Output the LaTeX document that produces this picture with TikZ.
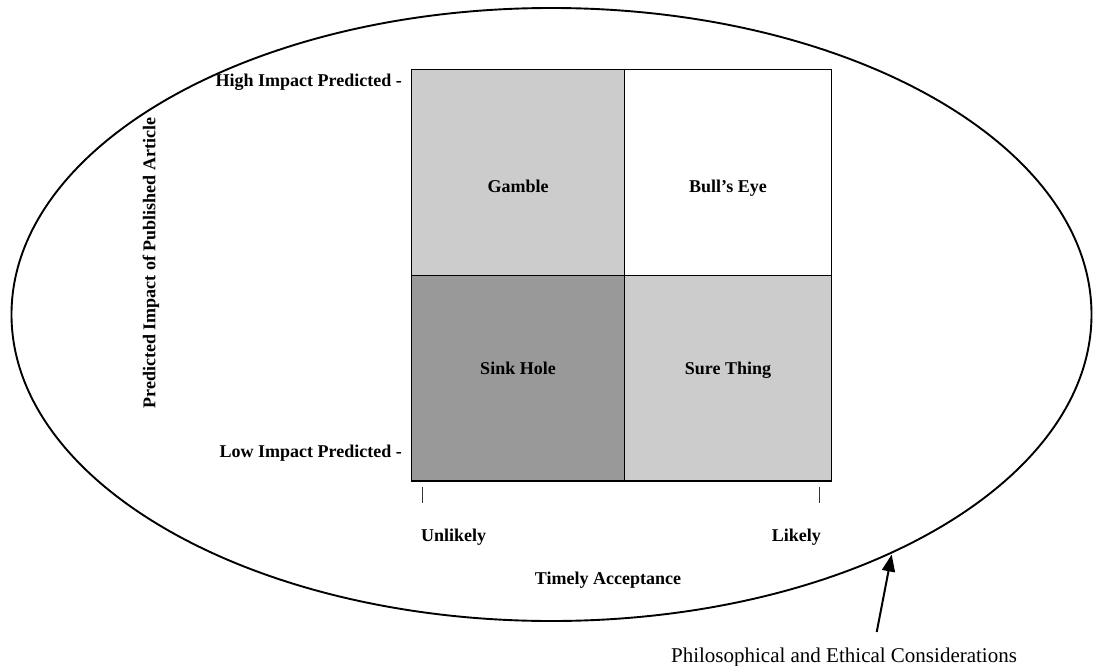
\documentclass[tikz,border=0pt]{standalone}
\usepackage{fontspec}
\setmainfont{Liberation Serif}
\usetikzlibrary{arrows.meta,shapes.geometric}
\definecolor{lightcell}{HTML}{CCCCCC}
\definecolor{darkcell}{HTML}{999999}
\begin{document}
\begin{tikzpicture}[x=1pt,y=-1pt,
  lbl/.style={font=\fontsize{18}{20}\selectfont\bfseries, inner sep=0pt},
  plain/.style={font=\fontsize{21}{24}\selectfont, inner sep=0pt},
  cell/.style={draw=black, line width=1.2pt, inner sep=0pt, outer sep=0pt},
  tick/.style={line width=0.9pt, draw=black!80}]
\useasboundingbox (0,0) rectangle (1094,666);
% outer ellipse
\node[ellipse, draw=black, line width=1.9pt, minimum width=1080pt, minimum height=613pt, inner sep=0pt] (oval) at (551.5,314.5) {};
% quadrant cells
\node[cell, fill=lightcell, minimum width=212.6pt, minimum height=206pt] (gamble) at (518,172.3) {};
\node[cell, fill=white, minimum width=207.4pt, minimum height=206pt] (bull) at (728,172.3) {};
\node[cell, fill=darkcell, minimum width=212.6pt, minimum height=205.7pt] (sink) at (518,378.15) {};
\node[cell, fill=lightcell, minimum width=207.4pt, minimum height=205.7pt] (sure) at (728,378.15) {};
% cell labels
\node[lbl, anchor=base] (tgamble) at (518,192) {Gamble};
\node[lbl, anchor=base] (tbull) at (728,192) {Bull’s Eye};
\node[lbl, anchor=base] (tsink) at (518,374) {Sink Hole};
\node[lbl, anchor=base] (tsure) at (728,374) {Sure Thing};
% axis labels
\node[lbl, anchor=base east] (high) at (402,87) {High Impact Predicted -};
\node[lbl, anchor=base east] (low) at (402,457) {Low Impact Predicted -};
\node[lbl, rotate=90] (yaxis) at (151,263) {Predicted Impact of Published Article};
\coordinate (t1a) at (422,487); \coordinate (t1b) at (422,503);
\coordinate (t2a) at (819,487); \coordinate (t2b) at (819,503);
\draw[tick] (t1a) -- (t1b);
\draw[tick] (t2a) -- (t2b);
\node[lbl, anchor=base west] (unlikely) at (421,541) {Unlikely};
\node[lbl, anchor=base east] (likely) at (821,541) {Likely};
\node[lbl, anchor=base] (xaxis) at (608,584) {Timely Acceptance};
% annotation
\node[plain, anchor=base] (philo) at (844,662) {Philosophical and Ethical Considerations};
\coordinate (tail) at (876.7,632);
\coordinate (tip) at (891.7,554.5);
\draw[line width=2pt, -{Triangle[length=17pt,width=13pt]}] (tail) -- (tip);
\end{tikzpicture}
\end{document}
